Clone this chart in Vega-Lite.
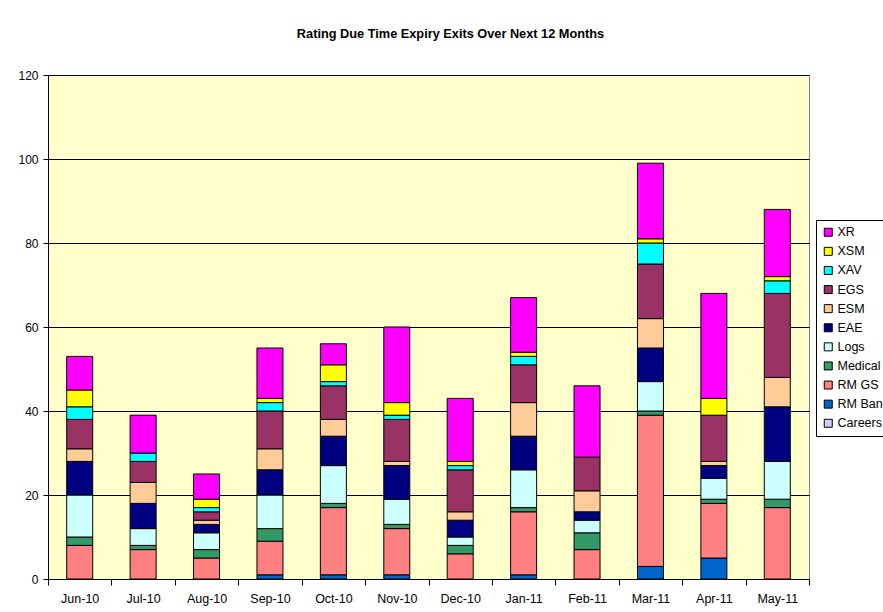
{
  "$schema": "https://vega.github.io/schema/vega-lite/v6.json",
  "autosize": "none",
  "width": 761,
  "height": 504,
  "padding": {"left": 48, "top": 75, "right": 74, "bottom": 33},
  "background": "white",
  "title": {
    "text": "Rating Due Time Expiry Exits Over Next 12 Months",
    "font": "Liberation Sans",
    "fontSize": 12.75,
    "fontWeight": "bold",
    "color": "black",
    "anchor": "middle",
    "frame": "group",
    "offset": 28,
    "dx": 22
  },
  "datasets": {
    "order": [
      {"s": "Careers", "k": 0}, {"s": "RM Band", "k": 1}, {"s": "RM GS", "k": 2}, {"s": "Medical", "k": 3}, {"s": "Logs", "k": 4}, {"s": "EAE", "k": 5}, {"s": "ESM", "k": 6}, {"s": "EGS", "k": 7}, {"s": "XAV", "k": 8}, {"s": "XSM", "k": 9}, {"s": "XR", "k": 10}
    ]
  },
  "data": {
    "values": [
      {"m": "Jun-10", "s": "RM GS", "v": 8}, {"m": "Jun-10", "s": "Medical", "v": 2}, {"m": "Jun-10", "s": "Logs", "v": 10}, {"m": "Jun-10", "s": "EAE", "v": 8}, {"m": "Jun-10", "s": "ESM", "v": 3}, {"m": "Jun-10", "s": "EGS", "v": 7}, {"m": "Jun-10", "s": "XAV", "v": 3}, {"m": "Jun-10", "s": "XSM", "v": 4}, {"m": "Jun-10", "s": "XR", "v": 8},
      {"m": "Jul-10", "s": "RM GS", "v": 7}, {"m": "Jul-10", "s": "Medical", "v": 1}, {"m": "Jul-10", "s": "Logs", "v": 4}, {"m": "Jul-10", "s": "EAE", "v": 6}, {"m": "Jul-10", "s": "ESM", "v": 5}, {"m": "Jul-10", "s": "EGS", "v": 5}, {"m": "Jul-10", "s": "XAV", "v": 2}, {"m": "Jul-10", "s": "XR", "v": 9},
      {"m": "Aug-10", "s": "RM GS", "v": 5}, {"m": "Aug-10", "s": "Medical", "v": 2}, {"m": "Aug-10", "s": "Logs", "v": 4}, {"m": "Aug-10", "s": "EAE", "v": 2}, {"m": "Aug-10", "s": "ESM", "v": 1}, {"m": "Aug-10", "s": "EGS", "v": 2}, {"m": "Aug-10", "s": "XAV", "v": 1}, {"m": "Aug-10", "s": "XSM", "v": 2}, {"m": "Aug-10", "s": "XR", "v": 6},
      {"m": "Sep-10", "s": "RM Band", "v": 1}, {"m": "Sep-10", "s": "RM GS", "v": 8}, {"m": "Sep-10", "s": "Medical", "v": 3}, {"m": "Sep-10", "s": "Logs", "v": 8}, {"m": "Sep-10", "s": "EAE", "v": 6}, {"m": "Sep-10", "s": "ESM", "v": 5}, {"m": "Sep-10", "s": "EGS", "v": 9}, {"m": "Sep-10", "s": "XAV", "v": 2}, {"m": "Sep-10", "s": "XSM", "v": 1}, {"m": "Sep-10", "s": "XR", "v": 12},
      {"m": "Oct-10", "s": "RM Band", "v": 1}, {"m": "Oct-10", "s": "RM GS", "v": 16}, {"m": "Oct-10", "s": "Medical", "v": 1}, {"m": "Oct-10", "s": "Logs", "v": 9}, {"m": "Oct-10", "s": "EAE", "v": 7}, {"m": "Oct-10", "s": "ESM", "v": 4}, {"m": "Oct-10", "s": "EGS", "v": 8}, {"m": "Oct-10", "s": "XAV", "v": 1}, {"m": "Oct-10", "s": "XSM", "v": 4}, {"m": "Oct-10", "s": "XR", "v": 5},
      {"m": "Nov-10", "s": "RM Band", "v": 1}, {"m": "Nov-10", "s": "RM GS", "v": 11}, {"m": "Nov-10", "s": "Medical", "v": 1}, {"m": "Nov-10", "s": "Logs", "v": 6}, {"m": "Nov-10", "s": "EAE", "v": 8}, {"m": "Nov-10", "s": "ESM", "v": 1}, {"m": "Nov-10", "s": "EGS", "v": 10}, {"m": "Nov-10", "s": "XAV", "v": 1}, {"m": "Nov-10", "s": "XSM", "v": 3}, {"m": "Nov-10", "s": "XR", "v": 18},
      {"m": "Dec-10", "s": "RM GS", "v": 6}, {"m": "Dec-10", "s": "Medical", "v": 2}, {"m": "Dec-10", "s": "Logs", "v": 2}, {"m": "Dec-10", "s": "EAE", "v": 4}, {"m": "Dec-10", "s": "ESM", "v": 2}, {"m": "Dec-10", "s": "EGS", "v": 10}, {"m": "Dec-10", "s": "XAV", "v": 1}, {"m": "Dec-10", "s": "XSM", "v": 1}, {"m": "Dec-10", "s": "XR", "v": 15},
      {"m": "Jan-11", "s": "RM Band", "v": 1}, {"m": "Jan-11", "s": "RM GS", "v": 15}, {"m": "Jan-11", "s": "Medical", "v": 1}, {"m": "Jan-11", "s": "Logs", "v": 9}, {"m": "Jan-11", "s": "EAE", "v": 8}, {"m": "Jan-11", "s": "ESM", "v": 8}, {"m": "Jan-11", "s": "EGS", "v": 9}, {"m": "Jan-11", "s": "XAV", "v": 2}, {"m": "Jan-11", "s": "XSM", "v": 1}, {"m": "Jan-11", "s": "XR", "v": 13},
      {"m": "Feb-11", "s": "RM GS", "v": 7}, {"m": "Feb-11", "s": "Medical", "v": 4}, {"m": "Feb-11", "s": "Logs", "v": 3}, {"m": "Feb-11", "s": "EAE", "v": 2}, {"m": "Feb-11", "s": "ESM", "v": 5}, {"m": "Feb-11", "s": "EGS", "v": 8}, {"m": "Feb-11", "s": "XR", "v": 17},
      {"m": "Mar-11", "s": "RM Band", "v": 3}, {"m": "Mar-11", "s": "RM GS", "v": 36}, {"m": "Mar-11", "s": "Medical", "v": 1}, {"m": "Mar-11", "s": "Logs", "v": 7}, {"m": "Mar-11", "s": "EAE", "v": 8}, {"m": "Mar-11", "s": "ESM", "v": 7}, {"m": "Mar-11", "s": "EGS", "v": 13}, {"m": "Mar-11", "s": "XAV", "v": 5}, {"m": "Mar-11", "s": "XSM", "v": 1}, {"m": "Mar-11", "s": "XR", "v": 18},
      {"m": "Apr-11", "s": "RM Band", "v": 5}, {"m": "Apr-11", "s": "RM GS", "v": 13}, {"m": "Apr-11", "s": "Medical", "v": 1}, {"m": "Apr-11", "s": "Logs", "v": 5}, {"m": "Apr-11", "s": "EAE", "v": 3}, {"m": "Apr-11", "s": "ESM", "v": 1}, {"m": "Apr-11", "s": "EGS", "v": 11}, {"m": "Apr-11", "s": "XSM", "v": 4}, {"m": "Apr-11", "s": "XR", "v": 25},
      {"m": "May-11", "s": "RM GS", "v": 17}, {"m": "May-11", "s": "Medical", "v": 2}, {"m": "May-11", "s": "Logs", "v": 9}, {"m": "May-11", "s": "EAE", "v": 13}, {"m": "May-11", "s": "ESM", "v": 7}, {"m": "May-11", "s": "EGS", "v": 20}, {"m": "May-11", "s": "XAV", "v": 3}, {"m": "May-11", "s": "XSM", "v": 1}, {"m": "May-11", "s": "XR", "v": 16}
    ]
  },
  "transform": [
    {"lookup": "s", "from": {"data": {"name": "order"}, "key": "s", "fields": ["k"]}}
  ],
  "mark": {"type": "bar", "width": {"band": 0.41}, "stroke": "black", "strokeWidth": 1},
  "encoding": {
    "x": {
      "field": "m",
      "type": "nominal",
      "sort": null,
      "scale": {"paddingInner": 0, "paddingOuter": 0},
      "axis": {
        "title": null,
        "labelAngle": 0,
        "tickBand": "extent",
        "tickSize": 6,
        "tickColor": "black",
        "domainColor": "black",
        "labelFont": "Liberation Sans",
        "labelFontSize": 12.5,
        "labelColor": "black",
        "labelPadding": 7
      }
    },
    "y": {
      "field": "v",
      "type": "quantitative",
      "stack": "zero",
      "scale": {"domain": [0, 120], "nice": false},
      "axis": {
        "title": null,
        "values": [0, 20, 40, 60, 80, 100, 120],
        "tickSize": 5,
        "tickColor": "black",
        "domainColor": "black",
        "grid": true,
        "gridColor": "black",
        "gridOpacity": 1,
        "gridWidth": 1,
        "labelFont": "Liberation Sans",
        "labelFontSize": 12,
        "labelColor": "black",
        "labelPadding": 5
      }
    },
    "order": {"field": "k", "type": "quantitative", "sort": "ascending"},
    "color": {
      "field": "s",
      "type": "nominal",
      "sort": ["XR", "XSM", "XAV", "EGS", "ESM", "EAE", "Logs", "Medical", "RM GS", "RM Band", "Careers"],
      "scale": {
        "domain": ["XR", "XSM", "XAV", "EGS", "ESM", "EAE", "Logs", "Medical", "RM GS", "RM Band", "Careers"],
        "range": ["#FF00FF", "#FFFF00", "#00FFFF", "#993366", "#FFCC99", "#000080", "#CCFFFF", "#339966", "#FF8080", "#0066CC", "#CCCCFF"]
      },
      "legend": {
        "title": null,
        "orient": "none",
        "legendX": 768,
        "legendY": 145,
        "symbolType": "square",
        "symbolSize": 64,
        "symbolStrokeColor": "black",
        "symbolStrokeWidth": 1,
        "labelFont": "Liberation Sans",
        "labelFontSize": 12.5,
        "labelColor": "black",
        "labelOffset": 3,
        "rowPadding": 6.1,
        "padding": 6,
        "fillColor": "white",
        "strokeColor": "black"
      }
    }
  },
  "config": {
    "view": {"fill": "#FFFFCC", "stroke": "#808080", "strokeWidth": 1}
  }
}
